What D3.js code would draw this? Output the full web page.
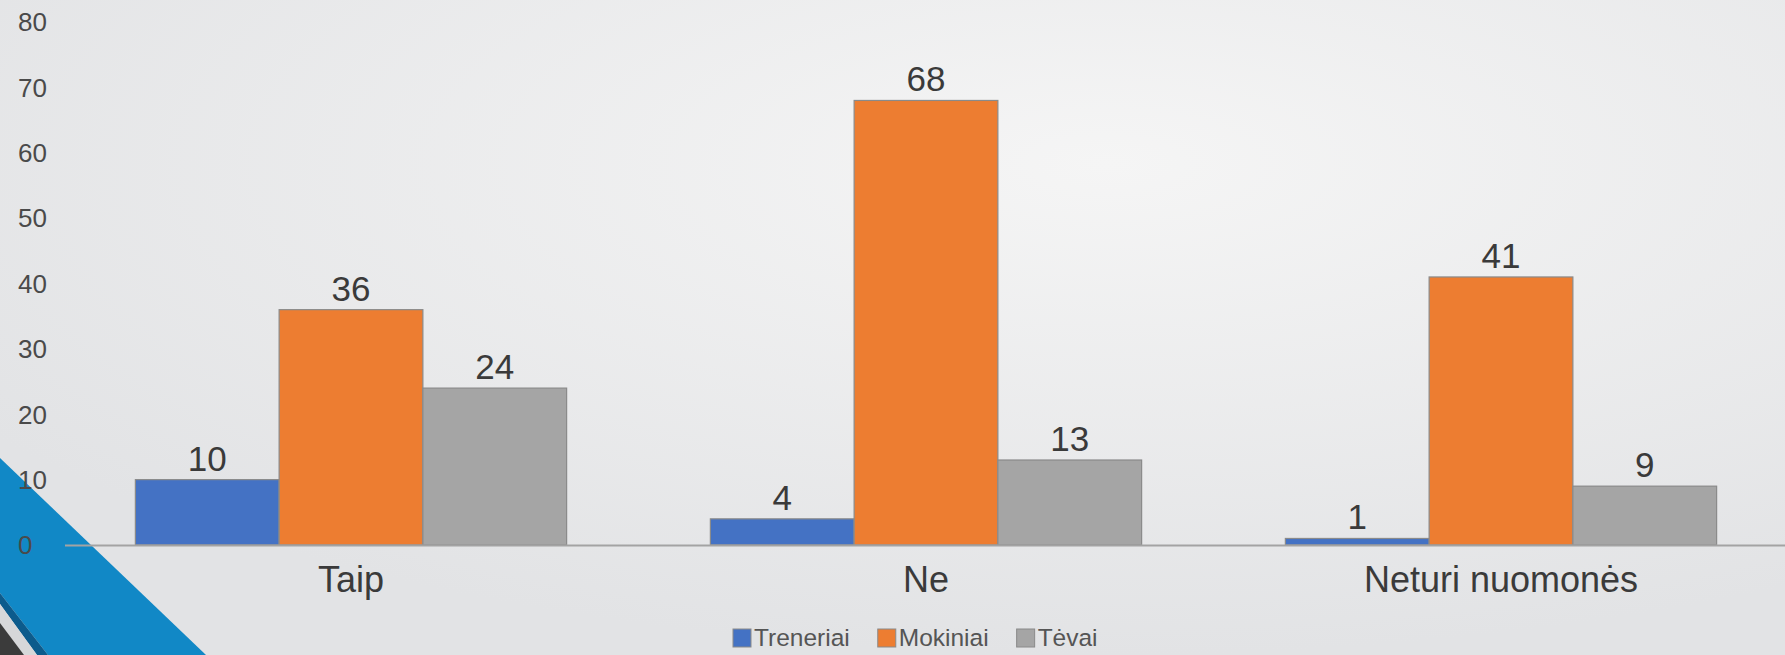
<!DOCTYPE html>
<html>
<head>
<meta charset="utf-8">
<script src="https://cdn.jsdelivr.net/npm/d3@7"></script>
<style>
  html, body { margin: 0; padding: 0; overflow: hidden; }
  svg { display: block; font-family: "Liberation Sans", Arial, sans-serif; }
</style>
</head>
<body>
<svg id="chart" width="1785" height="655"></svg>
<script>
// data
const categories = ["Taip", "Ne", "Neturi nuomonės"];
const seriesNames = ["Treneriai", "Mokiniai", "Tėvai"];
const treneriai = [10, 4, 1];
const mokiniai = [36, 68, 41];
const tevai = [24, 13, 9];
const yTicks = [0, 10, 20, 30, 40, 50, 60, 70, 80];
const colors = ["#4472C4", "#ED7D31", "#A5A5A5"];

const seriesValues = [treneriai, mokiniai, tevai];

var svg = d3.select("#chart"),
    width = +svg.attr("width"),
    height = +svg.attr("height");

// background gradient
const defs = svg.append("defs");
const grad = defs.append("radialGradient")
    .attr("id", "bg")
    .attr("cx", "62%").attr("cy", "25%").attr("r", "75%");
grad.append("stop").attr("offset", "0%").attr("stop-color", "#f5f5f5");
grad.append("stop").attr("offset", "100%").attr("stop-color", "#e2e3e5");

svg.append("rect")
    .attr("width", width)
    .attr("height", height)
    .attr("fill", "url(#bg)");

// slide decoration, bottom left corner
const deco = svg.append("g").attr("class", "deco");
deco.append("polygon")
    .attr("points", "0,458 206,655 48,655 0,593")
    .attr("fill", "#1188c6");
deco.append("polygon")
    .attr("points", "0,593 48,655 37,655 0,604")
    .attr("fill", "#0c5b8c");
deco.append("polygon")
    .attr("points", "0,604 37,655 24,655 0,623")
    .attr("fill", "#d6d7d9");
deco.append("polygon")
    .attr("points", "0,623 24,655 0,655")
    .attr("fill", "#3b3b3b");

// scales
const x0 = d3.scaleBand()
    .domain(categories)
    .range([63.5, 1788.5])
    .paddingInner(0.25)
    .paddingOuter(0.125);

const x1 = d3.scaleBand()
    .domain(seriesNames)
    .range([0, x0.bandwidth()]);

const y = d3.scaleLinear()
    .domain([0, 80])
    .range([545, 22]);

// y tick labels (no axis line, labels left aligned)
svg.append("g")
    .attr("class", "yticks")
    .selectAll("text")
    .data(yTicks)
    .enter().append("text")
        .attr("x", 18)
        .attr("y", function (d) { return y(d); })
        .attr("dy", "0.36em")
        .style("font-size", "26px")
        .attr("fill", "#4a4a4a")
        .text(function (d) { return d; });

// bars
const rows = categories.map(function (c, i) {
    return seriesNames.map(function (s, j) {
        return { cat: c, series: s, value: seriesValues[j][i], color: colors[j] };
    });
});

const groups = svg.append("g")
    .attr("class", "bars")
    .selectAll("g")
    .data(rows)
    .enter().append("g")
        .attr("transform", function (d, i) { return "translate(" + x0(categories[i]) + ",0)"; });

groups.selectAll("rect")
    .data(function (d) { return d; })
    .enter().append("rect")
        .attr("x", function (d) { return x1(d.series); })
        .attr("y", function (d) { return y(d.value); })
        .attr("width", x1.bandwidth())
        .attr("height", function (d) { return y(0) - y(d.value); })
        .attr("fill", function (d) { return d.color; })
        .attr("stroke", "#8a8a8a")
        .attr("stroke-width", 1.2);

groups.selectAll("text")
    .data(function (d) { return d; })
    .enter().append("text")
        .attr("x", function (d) { return x1(d.series) + x1.bandwidth() / 2; })
        .attr("y", function (d) { return y(d.value) - 9; })
        .attr("text-anchor", "middle")
        .style("font-size", "35px")
        .attr("fill", "#3a3a3a")
        .text(function (d) { return d.value; });

// x axis line
svg.append("line")
    .attr("x1", 65)
    .attr("x2", width)
    .attr("y1", y(0) + 0.5)
    .attr("y2", y(0) + 0.5)
    .attr("stroke", "#a3a3a3")
    .attr("stroke-width", 2);

// category labels
svg.append("g")
    .attr("class", "xlabels")
    .selectAll("text")
    .data(categories)
    .enter().append("text")
        .attr("x", function (d) { return x0(d) + x0.bandwidth() / 2; })
        .attr("y", 592)
        .attr("text-anchor", "middle")
        .style("font-size", "36px")
        .attr("fill", "#3a3a3a")
        .text(function (d) { return d; });

// legend
const legend = svg.append("g").attr("class", "legend");
let lx = 733;
seriesNames.forEach(function (name, i) {
    legend.append("rect")
        .attr("x", lx)
        .attr("y", 629)
        .attr("width", 18)
        .attr("height", 18)
        .attr("fill", colors[i])
        .attr("stroke", "#8a8a8a")
        .attr("stroke-width", 1);
    const t = legend.append("text")
        .attr("x", lx + 21)
        .attr("y", 646)
        .style("font-size", "24.5px")
        .attr("fill", "#555")
        .text(name);
    lx += 21 + t.node().getComputedTextLength() + 28;
});
</script>
</body>
</html>
